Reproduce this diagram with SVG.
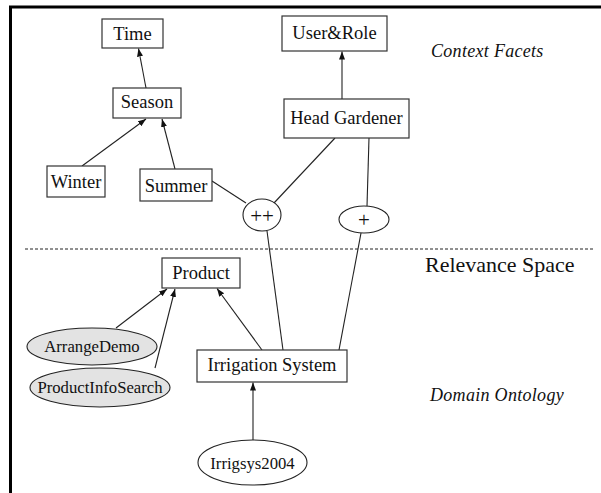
<svg xmlns="http://www.w3.org/2000/svg" width="601" height="493" viewBox="0 0 601 493">
<defs>
<marker id="arr" markerUnits="userSpaceOnUse" markerWidth="10" markerHeight="8" refX="8" refY="3" orient="auto">
<path d="M0,0 L8,3 L0,6 Z" fill="#111"/>
</marker>
<style>
.box{fill:#fff;stroke:#333;stroke-width:1.2}
.ell{fill:#fff;stroke:#222;stroke-width:1.1}
.gray{fill:#e3e3e3;stroke:#222;stroke-width:1.1}
.t{font-family:"Liberation Serif","Times New Roman",serif;font-size:18.5px;fill:#111;text-anchor:middle}
.te{font-family:"Liberation Serif","Times New Roman",serif;font-size:16.7px;fill:#111;text-anchor:middle}
.op{font-family:"Liberation Serif","Times New Roman",serif;font-size:21px;fill:#111;text-anchor:middle}
.lbl{font-family:"Liberation Serif","Times New Roman",serif;font-style:italic;font-size:18px;letter-spacing:0.3px;fill:#111}
.edge{stroke:#222;stroke-width:1.1;fill:none}
.arrow{marker-end:url(#arr)}
</style>
</defs>
<rect width="601" height="493" fill="#fff"/>
<g id="frame">
<line x1="9" y1="7" x2="601" y2="7" stroke="#000" stroke-width="3"/>
<line x1="10.5" y1="6" x2="10.5" y2="493" stroke="#000" stroke-width="3"/>
<line x1="25" y1="249" x2="594" y2="249" stroke="#222" stroke-width="1" stroke-dasharray="3,2"/>
</g>
<g id="connectors">
<line class="edge arrow" x1="146" y1="88" x2="138.5" y2="48.5"/>
<line class="edge arrow" x1="82" y1="166" x2="146" y2="119"/>
<line class="edge arrow" x1="175" y1="169" x2="162" y2="119"/>
<line class="edge arrow" x1="342" y1="99" x2="342" y2="51.5"/>
<line class="edge" x1="212" y1="181" x2="246" y2="203"/>
<line class="edge" x1="335" y1="138" x2="274" y2="203"/>
<line class="edge" x1="369" y1="138" x2="367" y2="206"/>
<line class="edge" x1="267" y1="231" x2="283" y2="350"/>
<line class="edge" x1="361" y1="233" x2="339" y2="350"/>
<line class="edge arrow" x1="116" y1="328" x2="167" y2="289"/>
<line class="edge arrow" x1="155" y1="368" x2="175" y2="289"/>
<line class="edge arrow" x1="262" y1="350" x2="217" y2="288.5"/>
<line class="edge arrow" x1="253" y1="440" x2="253" y2="382.5"/>
</g>
<g id="time"><rect class="box" x="102" y="19" width="61" height="29"/><text class="t" x="132.5" y="40">Time</text></g>
<g id="season"><rect class="box" x="113" y="88" width="68" height="30"/><text class="t" x="147" y="108">Season</text></g>
<g id="winter"><rect class="box" x="47" y="166" width="58" height="31"/><text class="t" x="76" y="188">Winter</text></g>
<g id="summer"><rect class="box" x="140" y="169" width="72" height="32"/><text class="t" x="176" y="192">Summer</text></g>
<g id="userrole"><rect class="box" x="282" y="16" width="105" height="35"/><text class="t" x="334.5" y="39">User&amp;Role</text></g>
<g id="headgardener"><rect class="box" x="284" y="99" width="125" height="39"/><text class="t" x="346.5" y="124">Head Gardener</text></g>
<g id="plusplus"><ellipse class="ell" cx="262" cy="215" rx="19" ry="16"/><text class="op" x="262" y="222.5">++</text></g>
<g id="plus"><ellipse class="ell" cx="364" cy="219.5" rx="25" ry="13.5"/><text class="op" x="364" y="227">+</text></g>
<g id="product"><rect class="box" x="162" y="258" width="78" height="30"/><text class="t" x="201" y="279">Product</text></g>
<g id="arrangedemo"><ellipse class="gray" cx="92" cy="346.5" rx="65" ry="18.5"/><text class="te" x="92" y="352">ArrangeDemo</text></g>
<g id="productinfosearch"><ellipse class="gray" cx="100" cy="387.5" rx="70" ry="19.5"/><text class="te" x="100" y="393">ProductInfoSearch</text></g>
<g id="irrigationsystem"><rect class="box" x="197" y="350" width="150" height="32"/><text class="t" x="272" y="371">Irrigation System</text></g>
<g id="irrigsys2004"><ellipse class="ell" cx="252.5" cy="462.5" rx="54.5" ry="22.5"/><text class="te" x="252.5" y="469">Irrigsys2004</text></g>
<g id="labels">
<text class="lbl" x="431" y="57">Context Facets</text>
<text x="425" y="272" style="font-family:'Liberation Serif','Times New Roman',serif;font-size:22px;fill:#111">Relevance Space</text>
<text class="lbl" x="430" y="401">Domain Ontology</text>
</g>
</svg>
